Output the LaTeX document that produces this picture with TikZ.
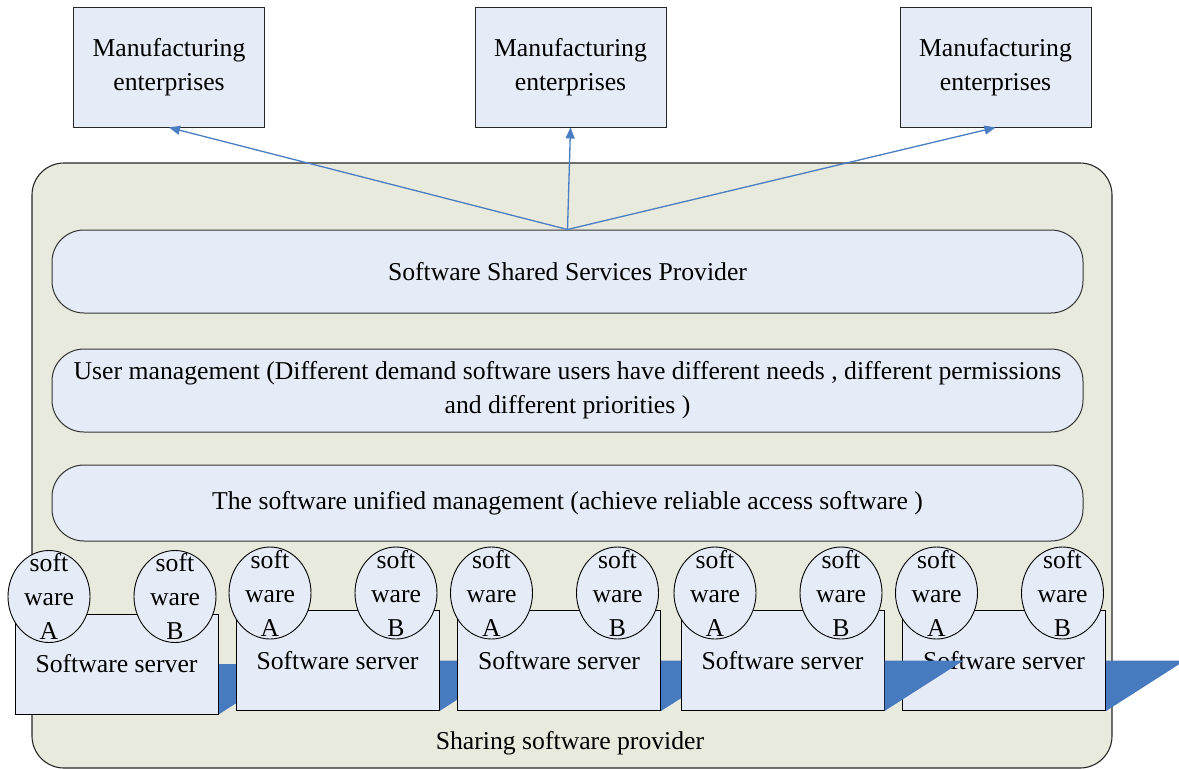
\documentclass[tikz,border=0pt]{standalone}
\usepackage{fontspec}
\setmainfont{Liberation Serif}
\usetikzlibrary{arrows.meta,shapes.geometric}
\definecolor{boxfill}{RGB}{230,236,247}
\definecolor{outerfill}{RGB}{232,234,222}
\definecolor{linkblue}{RGB}{74,125,193}
\definecolor{ribbonblue}{RGB}{72,122,192}
\pgfdeclarelayer{backdrop}
\pgfdeclarelayer{ribbon}
\pgfsetlayers{backdrop,ribbon,main}
\begin{document}
\begin{tikzpicture}[x=1pt,y=-1pt,
  every node/.style={font=\fontsize{25.7}{34}\selectfont},
  outer/.style={draw=black!85, line width=1.1pt, fill=outerfill, rounded corners=32pt,
    minimum width=1080pt, minimum height=605pt, inner sep=0pt},
  entbox/.style={draw=black!85, line width=1pt, fill=boxfill, minimum width=191pt,
    minimum height=120pt, inner sep=0pt, align=center},
  layer/.style={draw=black!80, line width=1pt, fill=boxfill, rounded corners=32pt,
    minimum width=1031pt, inner sep=0pt, align=center},
  server/.style={draw=black, line width=1pt, fill=boxfill, minimum width=203pt,
    minimum height=100pt, inner sep=0pt},
  disc/.style={ellipse, draw=black, line width=0.9pt, fill=boxfill, minimum width=82pt,
    minimum height=92pt, inner sep=0pt},
  disclabel/.style={align=center, inner sep=0pt},
  link/.style={draw=linkblue, line width=1.3pt, -{Triangle[length=11pt,width=9pt]}}
]
\useasboundingbox (0,0) rectangle (1179,769);

% provider frame
\begin{pgfonlayer}{backdrop}
\node[outer] (sharing) at (572,465.5) {};
\end{pgfonlayer}
\node (sharinglabel) at (570,743) {Sharing software provider};

% enterprises
\node[entbox] (m1) at (169,67) {Manufacturing\\enterprises};
\node[entbox] (m2) at (570.5,67) {Manufacturing\\enterprises};
\node[entbox] (m3) at (995.5,67) {Manufacturing\\enterprises};

% service layers
\node[layer, minimum height=83pt] (p1) at (567.5,271.5) {Software Shared Services Provider};
\node[layer, minimum height=83pt] (p2) at (567.5,390.5)
  {User management (Different demand software users have different needs , different permissions\\
   and different priorities )};
\node[layer, minimum height=76pt] (p3) at (567.5,503)
  {The software unified management (achieve reliable access software )};

% delivery links
\draw[link] (p1.north) -- (m1.south);
\draw[link] (p1.north) -- (m2.south);
\draw[link] (p1.north) -- (m3.south);

% software servers with their two applications
\foreach \n/\cx/\cy in {1/116.5/664, 2/337.5/660.5, 3/559/660.5, 4/782.5/660.5, 5/1004/660.5} {
  \node[server] (s\n) at (\cx,\cy) {Software server};
  \node[disc] (s\n-a) at (\cx-67.5,\cy-67.5) {};
  \node[disc] (s\n-b) at (\cx+58.5,\cy-67.5) {};
  \node[disclabel] (s\n-at) at (s\n-a.center) {soft\\ware\\A};
  \node[disclabel] (s\n-bt) at (s\n-b.center) {soft\\ware\\B};
}

% blue ribbons behind the servers
\begin{pgfonlayer}{ribbon}
\foreach \n in {1,2,3}
  \fill[ribbonblue] (s\n.east) -- ++(79,0) -- (s\n.south east) -- cycle;
\end{pgfonlayer}
\foreach \n in {4,5}
  \fill[ribbonblue] (s\n.east) -- ++(79,0) -- (s\n.south east) -- cycle;
\end{tikzpicture}
\end{document}
